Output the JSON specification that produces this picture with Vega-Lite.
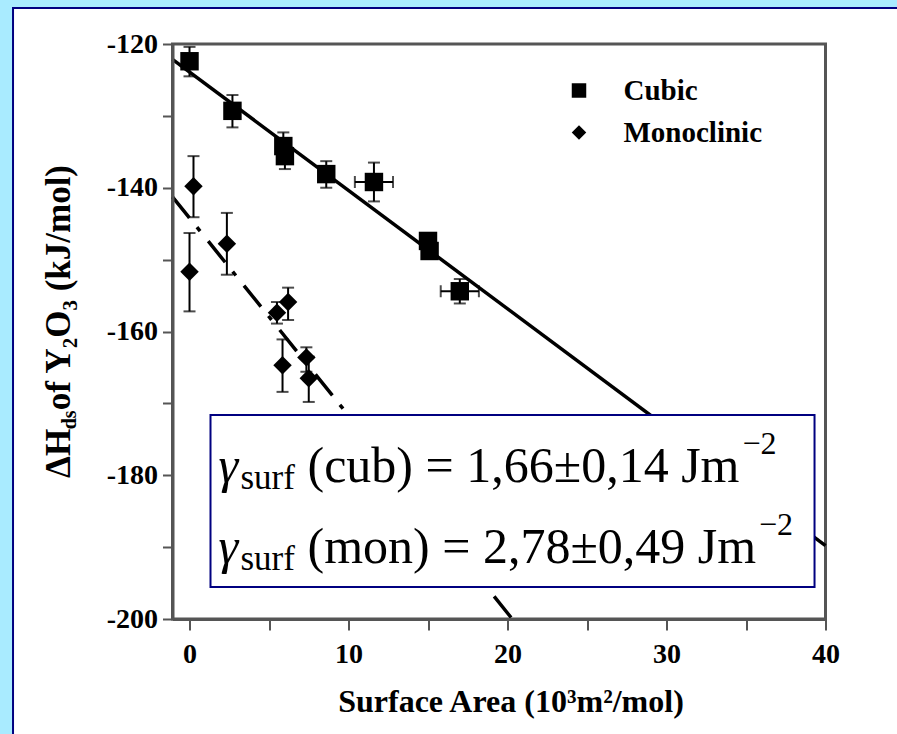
{
  "$schema": "https://vega.github.io/schema/vega-lite/v6.json",
  "width": 653,
  "height": 575,
  "padding": {"left": 11.5, "top": 6, "right": 0, "bottom": 0},
  "background": "#a9ebff",
  "resolve": {"axis": {"x": "independent", "y": "independent"}},
  "datasets": {
    "pts": [
      {"phase": "Cubic", "x": 0.0, "y": -122.4, "ylo": -124.5, "yhi": -120.4},
      {"phase": "Cubic", "x": 2.7, "y": -129.3, "ylo": -131.6, "yhi": -127.1},
      {"phase": "Cubic", "x": 5.9, "y": -134.2, "ylo": -136.1, "yhi": -132.3},
      {"phase": "Cubic", "x": 6.0, "y": -135.6, "ylo": -137.4, "yhi": -133.8},
      {"phase": "Cubic", "x": 8.6, "y": -138.1, "ylo": -140.0, "yhi": -136.3},
      {"phase": "Cubic", "x": 11.6, "y": -139.2, "ylo": -141.9, "yhi": -136.5, "xlo": 10.4, "xhi": 12.8},
      {"phase": "Cubic", "x": 15.0, "y": -147.4, "ylo": -148.4, "yhi": -146.4},
      {"phase": "Cubic", "x": 15.1, "y": -148.8, "ylo": -149.9, "yhi": -147.8},
      {"phase": "Cubic", "x": 17.0, "y": -154.4, "ylo": -156.1, "yhi": -152.7, "xlo": 15.8, "xhi": 18.2},
      {"phase": "Monoclinic", "x": 0.25, "y": -139.8, "ylo": -144.1, "yhi": -135.6},
      {"phase": "Monoclinic", "x": 0.0, "y": -151.7, "ylo": -157.2, "yhi": -146.3},
      {"phase": "Monoclinic", "x": 2.35, "y": -147.8, "ylo": -152.1, "yhi": -143.5},
      {"phase": "Monoclinic", "x": 5.5, "y": -157.4, "ylo": -158.9, "yhi": -155.9},
      {"phase": "Monoclinic", "x": 6.2, "y": -155.9, "ylo": -158.4, "yhi": -153.9},
      {"phase": "Monoclinic", "x": 5.85, "y": -164.7, "ylo": -168.4, "yhi": -161.1},
      {"phase": "Monoclinic", "x": 7.35, "y": -163.6, "ylo": -165.6, "yhi": -162.2},
      {"phase": "Monoclinic", "x": 7.5, "y": -166.5, "ylo": -169.8, "yhi": -163.5}
    ],
    "fits": [
      {"fit": "Cubic", "x": -1.07, "y": -122.14},
      {"fit": "Cubic", "x": 40, "y": -189.78},
      {"fit": "Monoclinic", "x": -1.07, "y": -141.26},
      {"fit": "Monoclinic", "x": 20.3, "y": -200}
    ],
    "one": [{"k": 1}]
  },
  "layer": [
    {
      "data": {"name": "one"},
      "mark": {"type": "rect", "fill": "white", "stroke": "#000080", "strokeWidth": 2},
      "encoding": {
        "x": {"datum": -11.1, "type": "quantitative", "scale": {"domain": [-1.07, 40], "nice": false, "zero": false}, "axis": null},
        "x2": {"datum": 44.59},
        "y": {"datum": -114.99, "type": "quantitative", "scale": {"domain": [-200, -120], "nice": false, "zero": false}, "axis": null},
        "y2": {"datum": -216.28}
      }
    },
    {
      "data": {"name": "one"},
      "mark": {"type": "rect", "fill": null, "stroke": "#555555", "strokeWidth": 3},
      "encoding": {
        "x": {"datum": -1.07, "type": "quantitative", "axis": null},
        "x2": {"datum": 40},
        "y": {"datum": -120, "type": "quantitative", "axis": null},
        "y2": {"datum": -200}
      }
    },
    {
      "data": {"name": "fits"},
      "transform": [{"filter": "datum.fit === 'Cubic'"}],
      "mark": {"type": "line", "color": "black", "strokeWidth": 3.5},
      "encoding": {
        "x": {"field": "x", "type": "quantitative", "axis": null},
        "y": {"field": "y", "type": "quantitative", "axis": null}
      }
    },
    {
      "data": {"name": "fits"},
      "transform": [{"filter": "datum.fit === 'Monoclinic'"}],
      "mark": {"type": "line", "color": "black", "strokeWidth": 3.5, "strokeDash": [27, 12, 5, 13]},
      "encoding": {
        "x": {"field": "x", "type": "quantitative", "axis": null},
        "y": {"field": "y", "type": "quantitative", "axis": null}
      }
    },
    {
      "data": {"name": "one"},
      "mark": {"type": "rect", "fill": "white", "stroke": "#000080", "strokeWidth": 2},
      "encoding": {
        "x": {"datum": 1.32, "type": "quantitative", "axis": null},
        "x2": {"datum": 39.31},
        "y": {"datum": -171.62, "type": "quantitative", "axis": null},
        "y2": {"datum": -195.55}
      }
    },
    {
      "data": {"name": "pts"},
      "mark": {"type": "errorbar", "color": "black", "thickness": 2, "ticks": {"size": 12, "thickness": 2, "color": "black"}},
      "encoding": {
        "x": {"field": "x", "type": "quantitative", "axis": null},
        "y": {"field": "ylo", "type": "quantitative", "axis": null},
        "y2": {"field": "yhi"}
      }
    },
    {
      "data": {"name": "pts"},
      "transform": [{"filter": "isValid(datum.xlo)"}],
      "mark": {"type": "errorbar", "color": "black", "thickness": 2, "ticks": {"size": 12, "thickness": 2, "color": "black"}},
      "encoding": {
        "y": {"field": "y", "type": "quantitative", "axis": null},
        "x": {"field": "xlo", "type": "quantitative", "axis": null},
        "x2": {"field": "xhi"}
      }
    },
    {
      "data": {"name": "pts"},
      "mark": {"type": "point", "filled": true, "color": "black", "opacity": 1, "size": 340},
      "encoding": {
        "x": {
          "field": "x", "type": "quantitative",
          "axis": {
            "orient": "bottom",
            "zindex": 1,
            "title": "Surface Area (10³m²/mol)",
            "values": [0, 5, 10, 15, 20, 25, 30, 35, 40],
            "labelExpr": "datum.value % 10 === 0 ? '' + datum.value : ''",
            "tickSize": 11,
            "labelPadding": 10,
            "titlePadding": 18,
            "titleX": 338,
            "labelFlush": false,
            "labelOverlap": false,
            "labelBound": false,
            "encode": {"ticks": {"update": {"y2": {"signal": "datum.value % 10 === 0 ? 11 : 5"}}}}
          }
        },
        "y": {
          "field": "y", "type": "quantitative",
          "axis": {
            "orient": "left",
            "zindex": 1,
            "title": null,
            "values": [-200, -190, -180, -170, -160, -150, -140, -130, -120],
            "labelExpr": "datum.value % 20 === 0 ? '' + datum.value : ''",
            "tickSize": 10,
            "labelPadding": 5,
            "labelFlush": false,
            "labelOverlap": false,
            "labelBound": false,
            "encode": {"ticks": {"update": {"x2": {"signal": "datum.value % 20 === 0 ? -10 : -4"}}}}
          }
        },
        "shape": {
          "field": "phase", "type": "nominal",
          "scale": {"domain": ["Cubic", "Monoclinic"], "range": ["square", "diamond"]},
          "legend": {"title": null, "orient": "none", "legendX": 392, "legendY": 32}
        }
      }
    },
    {
      "data": {"name": "one"},
      "mark": {"type": "text", "text": "γ", "font": "Liberation Serif", "fontStyle": "italic", "fontSize": 50, "align": "left", "baseline": "alphabetic", "color": "black"},
      "encoding": {"x": {"datum": 1.823, "type": "quantitative", "axis": null}, "y": {"datum": -180.94, "type": "quantitative", "axis": null}}
    },
    {
      "data": {"name": "one"},
      "mark": {"type": "text", "text": "surf", "font": "Liberation Serif", "fontSize": 35, "align": "left", "baseline": "alphabetic", "color": "black"},
      "encoding": {"x": {"datum": 3.207, "type": "quantitative", "axis": null}, "y": {"datum": -181.91, "type": "quantitative", "axis": null}}
    },
    {
      "data": {"name": "one"},
      "mark": {"type": "text", "text": "(cub) = 1,66±0,14 Jm", "font": "Liberation Serif", "fontSize": 50, "align": "left", "baseline": "alphabetic", "color": "black"},
      "encoding": {"x": {"datum": 7.421, "type": "quantitative", "axis": null}, "y": {"datum": -180.94, "type": "quantitative", "axis": null}}
    },
    {
      "data": {"name": "one"},
      "mark": {"type": "text", "text": "−2", "font": "Liberation Serif", "fontSize": 32, "align": "left", "baseline": "alphabetic", "color": "black"},
      "encoding": {"x": {"datum": 34.78, "type": "quantitative", "axis": null}, "y": {"datum": -177.04, "type": "quantitative", "axis": null}}
    },
    {
      "data": {"name": "one"},
      "mark": {"type": "text", "text": "γ", "font": "Liberation Serif", "fontStyle": "italic", "fontSize": 50, "align": "left", "baseline": "alphabetic", "color": "black"},
      "encoding": {"x": {"datum": 1.823, "type": "quantitative", "axis": null}, "y": {"datum": -192.21, "type": "quantitative", "axis": null}}
    },
    {
      "data": {"name": "one"},
      "mark": {"type": "text", "text": "surf", "font": "Liberation Serif", "fontSize": 35, "align": "left", "baseline": "alphabetic", "color": "black"},
      "encoding": {"x": {"datum": 3.207, "type": "quantitative", "axis": null}, "y": {"datum": -193.18, "type": "quantitative", "axis": null}}
    },
    {
      "data": {"name": "one"},
      "mark": {"type": "text", "text": "(mon) = 2,78±0,49 Jm", "font": "Liberation Serif", "fontSize": 50, "align": "left", "baseline": "alphabetic", "color": "black"},
      "encoding": {"x": {"datum": 7.421, "type": "quantitative", "axis": null}, "y": {"datum": -192.21, "type": "quantitative", "axis": null}}
    },
    {
      "data": {"name": "one"},
      "mark": {"type": "text", "text": "−2", "font": "Liberation Serif", "fontSize": 32, "align": "left", "baseline": "alphabetic", "color": "black"},
      "encoding": {"x": {"datum": 35.82, "type": "quantitative", "axis": null}, "y": {"datum": -188.31, "type": "quantitative", "axis": null}}
    },
    {
      "data": {"name": "one"},
      "mark": {"type": "text", "text": "ΔH", "font": "Liberation Serif", "fontWeight": "bold", "fontSize": 35, "angle": 270, "align": "left", "baseline": "alphabetic", "color": "black"},
      "encoding": {"x": {"datum": -7.548, "type": "quantitative", "axis": null}, "y": {"datum": -180.38, "type": "quantitative", "axis": null}}
    },
    {
      "data": {"name": "one"},
      "mark": {"type": "text", "text": "ds", "font": "Liberation Serif", "fontWeight": "bold", "fontSize": 20, "angle": 270, "align": "left", "baseline": "alphabetic", "color": "black"},
      "encoding": {"x": {"datum": -7.108, "type": "quantitative", "axis": null}, "y": {"datum": -173.6, "type": "quantitative", "axis": null}}
    },
    {
      "data": {"name": "one"},
      "mark": {"type": "text", "text": " of Y₂O₃ (kJ/mol)", "font": "Liberation Serif", "fontWeight": "bold", "fontSize": 35, "angle": 270, "align": "left", "baseline": "alphabetic", "color": "black"},
      "encoding": {"x": {"datum": -7.548, "type": "quantitative", "axis": null}, "y": {"datum": -170.95, "type": "quantitative", "axis": null}}
    }
  ],
  "config": {
    "view": {"stroke": null},
    "axis": {
      "grid": false,
      "domainColor": "#555555",
      "domainWidth": 3,
      "tickColor": "#555555",
      "tickWidth": 2,
      "labelFont": "Liberation Serif",
      "labelFontWeight": "bold",
      "labelFontSize": 28,
      "labelColor": "black",
      "titleFont": "Liberation Serif",
      "titleFontWeight": "bold",
      "titleFontSize": 32,
      "titleColor": "black"
    },
    "legend": {
      "labelFont": "Liberation Serif",
      "labelFontWeight": "bold",
      "labelFontSize": 29,
      "labelColor": "black",
      "symbolSize": 210,
      "symbolFillColor": "black",
      "symbolStrokeColor": "black",
      "symbolStrokeWidth": 0,
      "symbolOpacity": 1,
      "labelOffset": 30,
      "rowPadding": 12,
      "padding": 0
    }
  }
}
